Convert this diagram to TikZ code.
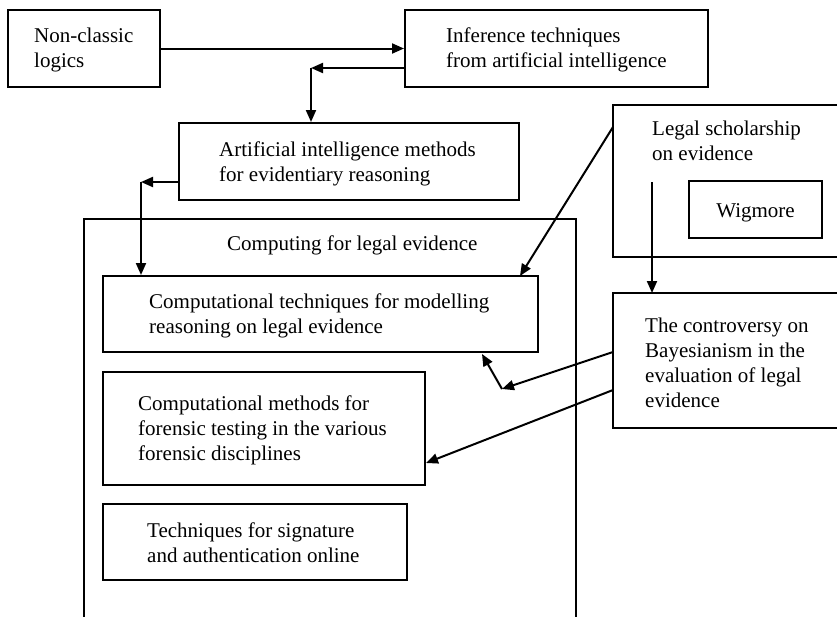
\documentclass[tikz,border=0pt]{standalone}
\usepackage{fontspec}
\setmainfont{Liberation Serif}
\usetikzlibrary{arrows.meta}
\begin{document}
\begin{tikzpicture}[x=1pt,y=-1pt,
  box/.style={draw,line width=2pt,inner sep=0pt},
  lbl/.style={anchor=base west,inner sep=0pt,align=left,
    font=\fontsize{21}{25}\selectfont},
  link/.style={line width=2pt,-{Triangle[length=12pt,width=10pt]}},
  bare/.style={line width=2pt}]
\useasboundingbox (0,0) rectangle (837,616);

% boxes
\node[box,minimum width=152pt,minimum height=77pt] (nc) at (84,48.5) {};
\node[box,minimum width=303pt,minimum height=77pt] (inf) at (556.5,48.5) {};
\node[box,minimum width=340pt,minimum height=77pt] (aim) at (349,161.5) {};
\node[box,minimum width=435pt,minimum height=76pt] (ct) at (320.5,314) {};
\node[box,minimum width=322pt,minimum height=113pt] (fm) at (264,428.5) {};
\node[box,minimum width=304pt,minimum height=76pt] (sig) at (255,542) {};
\node[box,minimum width=133pt,minimum height=57pt] (wig) at (755.5,209.5) {};

% open-ended frames
\draw[bare] (84,622) -- (84,219) -- (576,219) -- (576,622);
\draw[bare] (842,105) -- (613,105) -- (613,257) -- (842,257);
\draw[bare] (842,293) -- (613,293) -- (613,428) -- (842,428);
\coordinate (lsW) at (613,127);
\coordinate (bayA) at (613,352);
\coordinate (bayB) at (613,390);

% texts (anchored at the baseline of their last line)
\node[lbl] (tnc) at (34,67) {Non-classic\\logics};
\node[lbl] (tinf) at (446,67) {Inference techniques\\from artificial intelligence};
\node[lbl] (taim) at (219,181) {Artificial intelligence methods\\for evidentiary reasoning};
\node[lbl] (tcle) at (227,250) {Computing for legal evidence};
\node[lbl] (tct) at (149,333) {Computational techniques for modelling\\reasoning on legal evidence};
\node[lbl] (tfm) at (138,460) {Computational methods for\\forensic testing in the various\\forensic disciplines};
\node[lbl] (tsig) at (147,562) {Techniques for signature\\and authentication online};
\node[lbl] (tls) at (652,160) {Legal scholarship\\on evidence};
\node[lbl,anchor=base] (twig) at (755.5,217) {Wigmore};
\node[lbl] (tbay) at (645,407) {The controversy on\\Bayesianism in the\\evaluation of legal\\evidence};

% connectors
\draw[link] (nc.east) -- (inf.west);
\coordinate (c1) at (311,68);
\draw[link] (inf.west |- c1) -- (c1);
\draw[link] (c1) -- (c1 |- aim.north);
\coordinate (c2) at (141,182);
\draw[link] (aim.west |- c2) -- (c2);
\draw[link] (c2) -- (c2 |- ct.north);
\coordinate (ctT) at (520,276);
\draw[link] (lsW) -- (ctT);
\coordinate (lsS) at (652,182);
\draw[link] (lsS) -- (652,293);
\coordinate (c3) at (502,389);
\coordinate (ctB) at (482,354);
\draw[link] (bayA) -- (c3);
\draw[link] (c3) -- (ctB);
\draw[link] (bayB) -- (fm.east |- 0,463);
\end{tikzpicture}
\end{document}
